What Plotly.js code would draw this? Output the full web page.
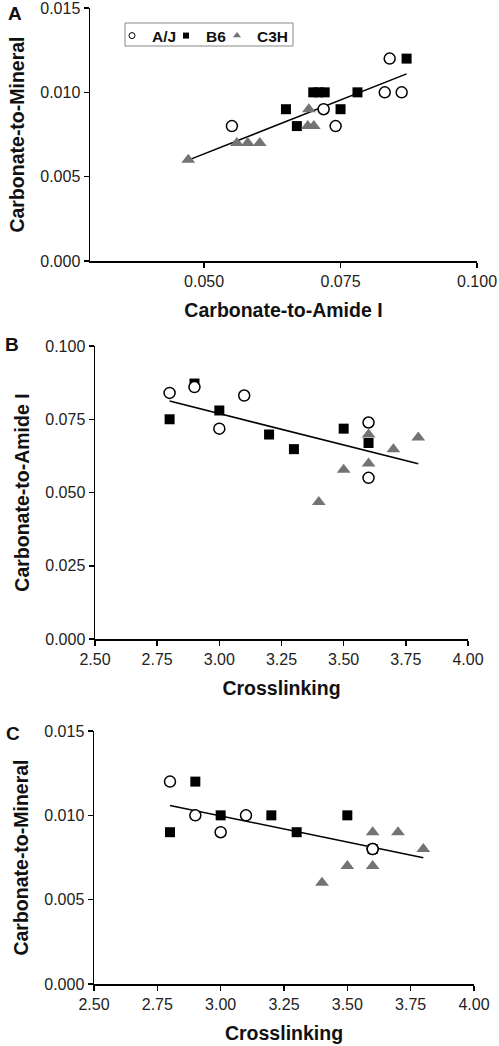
<!DOCTYPE html>
<html>
<head>
<meta charset="utf-8">
<script src="https://cdn.plot.ly/plotly-3.0.1.min.js"></script>
<style>html,body{margin:0;padding:0;background:#fff;}#chart{width:499px;height:1046px;}</style>
</head>
<body>
<div id="chart"></div>
<script>
// Panel A: Carbonate-to-Amide I (x) vs Carbonate-to-Mineral (y)
const aAJ_x = [0.0551, 0.0719, 0.0741, 0.0831, 0.0840, 0.0862];
const aAJ_y = [0.008, 0.009, 0.008, 0.010, 0.012, 0.010];
const aB6_x = [0.0650, 0.0670, 0.0700, 0.0710, 0.0721, 0.0750, 0.0781, 0.0871];
const aB6_y = [0.009, 0.008, 0.010, 0.010, 0.010, 0.009, 0.010, 0.012];
const aC3H_x = [0.0471, 0.0560, 0.0580, 0.0602, 0.0692, 0.0690, 0.0701];
const aC3H_y = [0.006, 0.007, 0.007, 0.007, 0.009, 0.008, 0.008];

// Panel B: Crosslinking (x) vs Carbonate-to-Amide I (y)
const bAJ_x = [2.8, 2.9, 3.0, 3.1, 3.6, 3.6];
const bAJ_y = [0.0840, 0.0860, 0.0718, 0.0831, 0.0739, 0.0550];
const bB6_x = [2.8, 2.9, 3.0, 3.2, 3.3, 3.5, 3.6];
const bB6_y = [0.0750, 0.0872, 0.0780, 0.0698, 0.0648, 0.0718, 0.0669];
const bC3H_x = [3.4, 3.5, 3.6, 3.6, 3.7, 3.8];
const bC3H_y = [0.0468, 0.0578, 0.0698, 0.0599, 0.0648, 0.0688];

// Panel C: Crosslinking (x) vs Carbonate-to-Mineral (y)
const cAJ_x = [2.8, 2.9, 3.0, 3.1, 3.6, 3.6];
const cAJ_y = [0.012, 0.010, 0.009, 0.010, 0.008, 0.008];
const cB6_x = [2.8, 2.9, 3.0, 3.2, 3.3, 3.5, 3.6];
const cB6_y = [0.009, 0.012, 0.010, 0.010, 0.009, 0.010, 0.008];
const cC3H_x = [3.4, 3.5, 3.6, 3.6, 3.7, 3.8];
const cC3H_y = [0.006, 0.007, 0.009, 0.007, 0.009, 0.008];

const strainNames = ['A/J', 'B6', 'C3H'];
const panelLabels = ['A', 'B', 'C'];
const xTitles = ['Carbonate-to-Amide I', 'Crosslinking', 'Crosslinking'];
const yTitles = ['Carbonate-to-Mineral', 'Carbonate-to-Amide I', 'Carbonate-to-Mineral'];
const mineralTicks = [0, 0.005, 0.010, 0.015];
const amideTicks = [0, 0.025, 0.050, 0.075, 0.100];
const amideXTicks = [0.050, 0.075, 0.100];
const crossTicks = [2.50, 2.75, 3.00, 3.25, 3.50, 3.75, 4.00];

const FONT = '"Liberation Sans", Arial, sans-serif';
const GRAY = '#737373';

function fitLine(xs, ys) {
  const n = xs.length;
  const mx = xs.reduce((a, b) => a + b, 0) / n;
  const my = ys.reduce((a, b) => a + b, 0) / n;
  let sxy = 0, sxx = 0;
  for (let i = 0; i < n; i++) { sxy += (xs[i] - mx) * (ys[i] - my); sxx += (xs[i] - mx) ** 2; }
  const m = sxy / sxx, b = my - m * mx;
  const x0 = Math.min(...xs), x1 = Math.max(...xs);
  return { x: [x0, x1], y: [m * x0 + b, m * x1 + b] };
}

const panels = [
  { aj: [aAJ_x, aAJ_y], b6: [aB6_x, aB6_y], c3: [aC3H_x, aC3H_y], xa: 'x', ya: 'y' },
  { aj: [bAJ_x, bAJ_y], b6: [bB6_x, bB6_y], c3: [bC3H_x, bC3H_y], xa: 'x2', ya: 'y2' },
  { aj: [cAJ_x, cAJ_y], b6: [cB6_x, cB6_y], c3: [cC3H_x, cC3H_y], xa: 'x3', ya: 'y3' }
];

const traces = [];
panels.forEach(p => {
  const allX = [].concat(p.aj[0], p.b6[0], p.c3[0]);
  const allY = [].concat(p.aj[1], p.b6[1], p.c3[1]);
  const f = fitLine(allX, allY);
  traces.push({ x: f.x, y: f.y, xaxis: p.xa, yaxis: p.ya, mode: 'lines', line: { color: '#000', width: 1.5 }, showlegend: false, hoverinfo: 'skip' });
  traces.push({ x: p.b6[0], y: p.b6[1], xaxis: p.xa, yaxis: p.ya, mode: 'markers', name: strainNames[1], showlegend: false,
    marker: { symbol: 'square', size: 10, color: '#000' } });
  traces.push({ x: p.c3[0], y: p.c3[1], xaxis: p.xa, yaxis: p.ya, mode: 'markers', name: strainNames[2], showlegend: false,
    marker: { symbol: 'triangle-up', size: 12, color: GRAY } });
  traces.push({ x: p.aj[0], y: p.aj[1], xaxis: p.xa, yaxis: p.ya, mode: 'markers', name: strainNames[0], showlegend: false,
    marker: { symbol: 'circle', size: 11, color: '#fff', line: { color: '#000', width: 1.5 } } });
});
// legend entries (small symbols as in the original key), one legend each for exact placement
traces.push({ x: [null], y: [null], mode: 'markers', name: strainNames[0], legend: 'legend',
  marker: { symbol: 'circle', size: 6, color: '#fff', line: { color: '#000', width: 1 } } });
traces.push({ x: [null], y: [null], mode: 'markers', name: strainNames[1], legend: 'legend2',
  marker: { symbol: 'square', size: 6, color: '#000' } });
traces.push({ x: [null], y: [null], mode: 'markers', name: strainNames[2], legend: 'legend3',
  marker: { symbol: 'triangle-up', size: 7, color: GRAY } });

const W = 499, H = 1046;
function xdom(l, r) { return [l / W, r / W]; }
function ydom(b, t) { return [1 - b / H, 1 - t / H]; }

const tickFont = { family: FONT, size: 16, color: '#222' };
const titleFont = { family: FONT, size: 19.5, color: '#111', weight: 700 };

function xAxis(dom, range, anchor, title, extra) {
  return Object.assign({ domain: dom, range: range, anchor: anchor, showgrid: false, zeroline: false, showline: true,
    linecolor: '#000', linewidth: 1.5, ticks: 'outside', ticklen: 5, tickwidth: 1.5, tickcolor: '#000',
    tickfont: tickFont, ticklabeloverflow: 'allow', title: { text: title, font: titleFont, standoff: 14 }, fixedrange: true }, extra);
}
function yAxis(dom, range, anchor, title, extra) {
  return Object.assign({ domain: dom, range: range, anchor: anchor, showgrid: false, zeroline: false, showline: true,
    linecolor: '#000', linewidth: 1.5, ticks: 'outside', ticklen: 5, tickwidth: 1.5, tickcolor: '#000',
    tickfont: tickFont, ticklabeloverflow: 'allow', title: { text: title, font: titleFont, standoff: 10 }, fixedrange: true }, extra);
}

function legendAt(px) {
  return { orientation: 'h', x: px / W, y: 1 - 19 / H, xanchor: 'left', yanchor: 'top',
    borderwidth: 0, bgcolor: 'rgba(0,0,0,0)', itemwidth: 30,
    font: { family: FONT, size: 15.5, color: '#111', weight: 700 } };
}

function panelLabel(text, px, py) {
  return { text: text, xref: 'paper', yref: 'paper', x: px / W, y: 1 - py / H, xanchor: 'center', yanchor: 'middle',
    showarrow: false, font: { family: FONT, size: 19, weight: 700, color: '#111' } };
}

const layout = {
  width: W, height: H,
  margin: { l: 0, r: 0, t: 0, b: 0 },
  paper_bgcolor: '#fff', plot_bgcolor: '#fff',
  font: { family: FONT, color: '#111' },
  xaxis: xAxis(xdom(90, 477), [0.0291, 0.1], 'y', xTitles[0], { tickvals: amideXTicks, tickformat: '.3f' }),
  yaxis: yAxis(ydom(261, 8), [0, 0.015001], 'x', yTitles[0], { tickvals: mineralTicks, tickformat: '.3f' }),
  xaxis2: xAxis(xdom(95, 468), [2.5, 4.0], 'y2', xTitles[1], { tickvals: crossTicks, tickformat: '.2f' }),
  yaxis2: yAxis(ydom(639, 346), [0, 0.10001], 'x2', yTitles[1], { tickvals: amideTicks, tickformat: '.3f' }),
  xaxis3: xAxis(xdom(94, 474), [2.5, 4.0], 'y3', xTitles[2], { tickvals: crossTicks, tickformat: '.2f' }),
  yaxis3: yAxis(ydom(984, 731), [0, 0.015001], 'x3', yTitles[2], { tickvals: mineralTicks, tickformat: '.3f' }),
  showlegend: true,
  legend: legendAt(112),
  legend2: legendAt(166),
  legend3: legendAt(217),
  shapes: [
    { type: 'rect', xref: 'paper', yref: 'paper', x0: 125 / W, x1: 293 / W, y0: 1 - 46 / H, y1: 1 - 23 / H,
      line: { color: '#888', width: 1 }, fillcolor: 'rgba(0,0,0,0)', layer: 'below' }
  ],
  annotations: [
    panelLabel(panelLabels[0], 15, 14),
    panelLabel(panelLabels[1], 12, 345),
    panelLabel(panelLabels[2], 13, 733)
  ]
};

Plotly.newPlot('chart', traces, layout, { displayModeBar: false, staticPlot: true });
</script>
</body>
</html>
